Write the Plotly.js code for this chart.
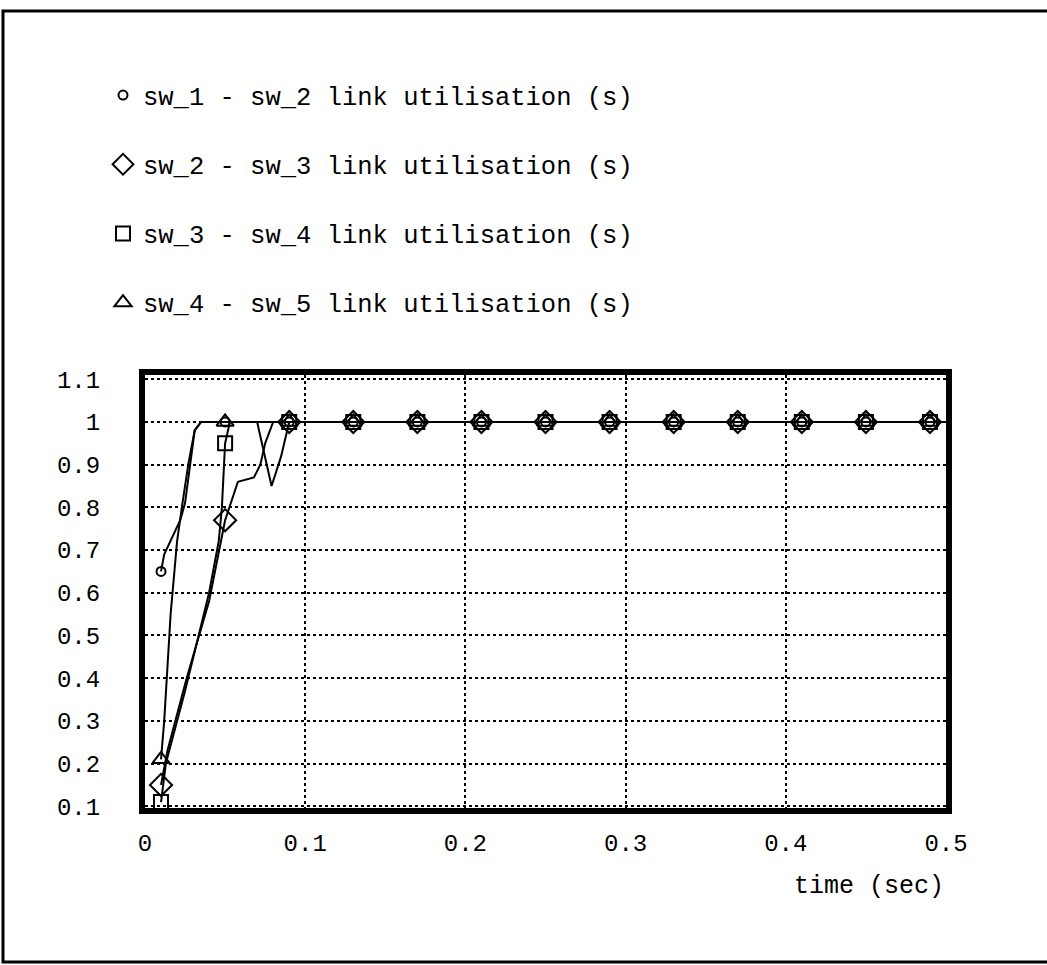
<!DOCTYPE html>
<html>
<head>
<meta charset="utf-8">
<script src="https://cdn.plot.ly/plotly-3.0.1.min.js"></script>
<style>
  html, body { margin: 0; padding: 0; background: #fff; }
  #chart { width: 1047px; height: 965px; }
</style>
</head>
<body>
<div id="chart"></div>
<script>
// ---- data ----
const seriesNames = [
  "sw_1 - sw_2 link utilisation (s)",
  "sw_2 - sw_3 link utilisation (s)",
  "sw_3 - sw_4 link utilisation (s)",
  "sw_4 - sw_5 link utilisation (s)"
];
const markerTimes = [0.01, 0.05, 0.09, 0.13, 0.17, 0.21, 0.25, 0.29, 0.33, 0.37, 0.41, 0.45, 0.49];
const sw12Markers = [0.65, 1, 1, 1, 1, 1, 1, 1, 1, 1, 1, 1, 1];
const sw23Markers = [0.15, 0.77, 1, 1, 1, 1, 1, 1, 1, 1, 1, 1, 1];
const sw34Markers = [0.11, 0.95, 1, 1, 1, 1, 1, 1, 1, 1, 1, 1, 1];
const sw45Markers = [0.21, 1, 1, 1, 1, 1, 1, 1, 1, 1, 1, 1, 1];

const sw12Time = [0.01, 0.012, 0.022, 0.025, 0.031, 0.035, 0.05, 0.5];
const sw12Line = [0.65, 0.69, 0.77, 0.81, 0.98, 1.0, 1.0, 1.0];
const sw23Time = [0.01, 0.014, 0.026, 0.04, 0.05, 0.058, 0.068, 0.072, 0.075, 0.08, 0.09, 0.5];
const sw23Line = [0.15, 0.23, 0.40, 0.58, 0.77, 0.86, 0.87, 0.90, 0.95, 1.0, 1.0, 1.0];
const sw34Time = [0.01, 0.013, 0.025, 0.04, 0.046, 0.048, 0.05, 0.053, 0.07, 0.073, 0.079, 0.085, 0.09, 0.5];
const sw34Line = [0.11, 0.20, 0.37, 0.60, 0.72, 0.80, 0.95, 1.0, 1.0, 0.95, 0.85, 0.92, 1.0, 1.0];
const sw45Time = [0.01, 0.012, 0.016, 0.02, 0.023, 0.027, 0.031, 0.035, 0.05, 0.5];
const sw45Line = [0.21, 0.30, 0.55, 0.72, 0.80, 0.90, 0.98, 1.0, 1.0, 1.0];

const xTicks = [0, 0.1, 0.2, 0.3, 0.4, 0.5];
const xTickText = ["0", "0.1", "0.2", "0.3", "0.4", "0.5"];
const yTicks = [0.1, 0.2, 0.3, 0.4, 0.5, 0.6, 0.7, 0.8, 0.9, 1.0, 1.1];
const yTickText = ["0.1", "0.2", "0.3", "0.4", "0.5", "0.6", "0.7", "0.8", "0.9", "1", "1.1"];
const xTitle = "time (sec)";

// ---- traces ----
const FONT = "Liberation Mono, DejaVu Sans Mono, monospace";
const lineSets = [[sw12Time, sw12Line], [sw23Time, sw23Line], [sw34Time, sw34Line], [sw45Time, sw45Line]];
const markerSets = [sw12Markers, sw23Markers, sw34Markers, sw45Markers];
const symbols = ["circle-open", "diamond-open", "square-open", "triangle-up-open"];
const sizes = [9, 17, 14, 15];

const traces = [];
lineSets.forEach((s, i) => {
  traces.push({
    x: s[0], y: s[1], type: "scatter", mode: "lines",
    line: { color: "#000", width: 2 }, showlegend: false, hoverinfo: "skip"
  });
});
markerSets.forEach((m, i) => {
  traces.push({
    x: markerTimes, y: m, type: "scatter", mode: "markers",
    name: seriesNames[i], legendgroup: "g" + i,
    marker: { symbol: symbols[i], size: sizes[i], color: "#000", line: { color: "#000", width: 2 } }
  });
});

// ---- layout geometry ----
const W = 1047, H = 965;
const L = 145, R = 946, T = 375, B = 808;
const pw = R - L, ph = B - T;
const px = v => (v - L) / pw;
const py = v => (B - v) / ph;

const layout = {
  width: W, height: H,
  margin: { l: L, r: W - R, t: T, b: H - B, pad: 0 },
  paper_bgcolor: "#fff", plot_bgcolor: "#fff",
  font: { family: FONT, color: "#000", size: 24 },
  showlegend: true,
  legend: {
    x: px(103), y: py(72), xanchor: "left", yanchor: "top",
    font: { family: FONT, size: 25.5, color: "#000" },
    tracegroupgap: 33, bgcolor: "rgba(0,0,0,0)", traceorder: "grouped"
  },
  xaxis: {
    range: [0, 0.5], tickvals: xTicks, ticktext: xTickText,
    showgrid: true, gridcolor: "#000", gridwidth: 2, griddash: "3px,3px",
    zeroline: false, showline: true, linecolor: "#000", linewidth: 6, mirror: true,
    ticks: "", ticklabelstandoff: 8,
    tickfont: { family: FONT, size: 24, color: "#000" }
  },
  yaxis: {
    range: [0.096, 1.11], tickvals: yTicks, ticktext: yTickText,
    showgrid: true, gridcolor: "#000", gridwidth: 2, griddash: "3px,3px",
    zeroline: false, showline: true, linecolor: "#000", linewidth: 6, mirror: true,
    ticks: "", ticklabelstandoff: 34,
    tickfont: { family: FONT, size: 24, color: "#000" }
  },
  annotations: [{
    text: xTitle, xref: "paper", yref: "paper", x: 1, y: py(886),
    xanchor: "right", yanchor: "middle", showarrow: false,
    font: { family: FONT, size: 25, color: "#000" }
  }],
  shapes: [{
    type: "rect", xref: "paper", yref: "paper",
    x0: px(3), x1: px(1060), y0: py(962), y1: py(11),
    line: { color: "#000", width: 3 }, fillcolor: "rgba(0,0,0,0)", layer: "below"
  }]
};

Plotly.newPlot("chart", traces, layout, { displayModeBar: false, staticPlot: true });
</script>
</body>
</html>
